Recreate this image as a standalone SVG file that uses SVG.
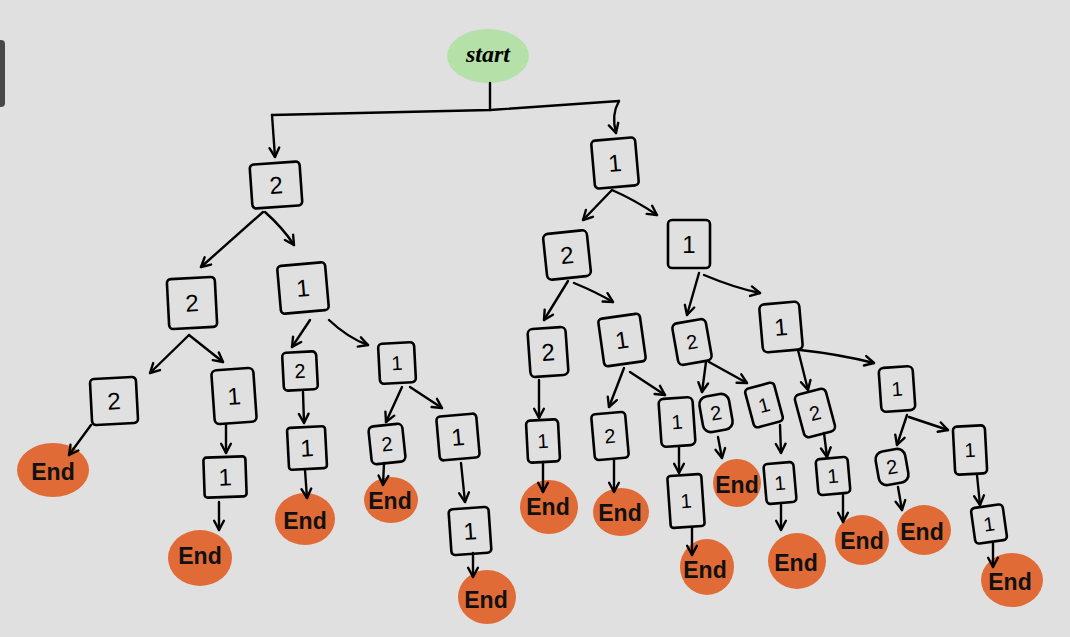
<svg xmlns="http://www.w3.org/2000/svg" width="1070" height="637" viewBox="0 0 1070 637">
<defs>
<marker id="ah" viewBox="0 0 12 12" refX="10" refY="6" markerWidth="13" markerHeight="13" markerUnits="userSpaceOnUse" orient="auto">
<path d="M1.5,1.5 L10,6 L1.5,10.5" fill="none" stroke="#000" stroke-width="2.2" stroke-linecap="round" stroke-linejoin="round"/>
</marker>
</defs>
<style>
.box{fill:none;stroke:#000;stroke-width:2.6;stroke-linejoin:round}
.num{font-family:"Liberation Sans","Noto Sans",sans-serif;font-size:24px;fill:#000;text-anchor:middle;dominant-baseline:central}
.sm{font-size:20px}
.end{fill:#e06b36}
.endt{font-family:"Liberation Sans","Noto Sans",sans-serif;font-size:23px;font-weight:600;fill:#111;text-anchor:middle;dominant-baseline:central}
.c{fill:none;stroke:#000;stroke-width:2.4;stroke-linecap:round;stroke-linejoin:round}
.ca{fill:none;stroke:#000;stroke-width:2.4;stroke-linecap:round;marker-end:url(#ah)}
</style>
<rect width="1070" height="637" fill="#e0e0e0"/>
<rect x="-6" y="40" width="11" height="67" rx="4" fill="#484848"/>

<g id="start"><ellipse cx="488" cy="56" rx="41" ry="27" fill="#b5e0a8"/><text x="488" y="54" font-family="'Liberation Serif',serif" font-style="italic" font-weight="bold" font-size="24" text-anchor="middle" dominant-baseline="central">start</text></g>

<g id="nA" transform="translate(276,185) rotate(-4)"><rect class="box" x="-25" y="-22" width="50" height="44" rx="4"/><text class="num">2</text></g>
<g id="nB" transform="translate(615,163) rotate(-5)"><rect class="box" x="-22" y="-24" width="44" height="48" rx="4"/><text class="num">1</text></g>
<g id="nA1" transform="translate(192,303) rotate(-3)"><rect class="box" x="-24" y="-25" width="48" height="50" rx="4"/><text class="num">2</text></g>
<g id="nA2" transform="translate(303,288) rotate(-5)"><rect class="box" x="-24" y="-24" width="48" height="48" rx="4"/><text class="num">1</text></g>
<g id="nB1" transform="translate(567,255) rotate(-6)"><rect class="box" x="-22" y="-23" width="44" height="46" rx="5"/><text class="num">2</text></g>
<g id="nB2" transform="translate(689,244)"><rect class="box" x="-21" y="-24" width="42" height="48" rx="4"/><text class="num">1</text></g>
<g id="nA11" transform="translate(114,401) rotate(-3)"><rect class="box" x="-23" y="-23" width="46" height="46" rx="4"/><text class="num">2</text></g>
<g id="nA12" transform="translate(234,396) rotate(-4)"><rect class="box" x="-21" y="-27" width="42" height="54" rx="5"/><text class="num">1</text></g>
<g id="nA12c" transform="translate(225,477) rotate(-2)"><rect class="box" x="-21" y="-20" width="42" height="40" rx="3"/><text class="num">1</text></g>
<g id="nA21" transform="translate(300,371) rotate(-3)"><rect class="box" x="-17" y="-19" width="34" height="38" rx="4"/><text class="num sm">2</text></g>
<g id="nA21c" transform="translate(307,448) rotate(-3)"><rect class="box" x="-19" y="-21" width="38" height="42" rx="3"/><text class="num">1</text></g>
<g id="nA22" transform="translate(397,363) rotate(-3)"><rect class="box" x="-18" y="-20" width="36" height="40" rx="4"/><text class="num sm">1</text></g>
<g id="nA22L" transform="translate(387,444) rotate(-6)"><rect class="box" x="-17" y="-19" width="34" height="38" rx="5"/><text class="num sm">2</text></g>
<g id="nA22R" transform="translate(458,437) rotate(-5)"><rect class="box" x="-20" y="-22" width="40" height="44" rx="4"/><text class="num">1</text></g>
<g id="nA22Rc" transform="translate(470,531) rotate(-4)"><rect class="box" x="-20" y="-23" width="40" height="46" rx="4"/><text class="num">1</text></g>
<g id="nB11" transform="translate(548,352) rotate(-4)"><rect class="box" x="-19" y="-24" width="38" height="48" rx="5"/><text class="num">2</text></g>
<g id="nB11c" transform="translate(543,441) rotate(-3)"><rect class="box" x="-16" y="-21" width="32" height="42" rx="4"/><text class="num sm">1</text></g>
<g id="nB12" transform="translate(622,340) rotate(-8)"><rect class="box" x="-21" y="-24" width="42" height="48" rx="4"/><text class="num">1</text></g>
<g id="nB12L" transform="translate(610,436) rotate(-5)"><rect class="box" x="-17" y="-23" width="34" height="46" rx="4"/><text class="num sm">2</text></g>
<g id="nB12R" transform="translate(677,422) rotate(-4)"><rect class="box" x="-17" y="-24" width="34" height="48" rx="5"/><text class="num sm">1</text></g>
<g id="nB12Rc" transform="translate(686,501) rotate(-4)"><rect class="box" x="-17" y="-26" width="34" height="52" rx="3"/><text class="num sm">1</text></g>
<g id="nB21" transform="translate(692,342) rotate(-10)"><rect class="box" x="-17" y="-21" width="34" height="42" rx="5"/><text class="num sm">2</text></g>
<g id="nB21L" transform="translate(716,413) rotate(-10)"><rect class="box" x="-15" y="-18" width="30" height="36" rx="8"/><text class="num sm">2</text></g>
<g id="nB21R" transform="translate(764,405) rotate(-15)"><rect class="box" x="-15" y="-20" width="30" height="40" rx="4"/><text class="num sm">1</text></g>
<g id="nB21Rc" transform="translate(780,483) rotate(-5)"><rect class="box" x="-15" y="-20" width="30" height="40" rx="4"/><text class="num sm">1</text></g>
<g id="nB22" transform="translate(781,327) rotate(-5)"><rect class="box" x="-20" y="-24" width="40" height="48" rx="5"/><text class="num">1</text></g>
<g id="nB22L" transform="translate(815,413) rotate(-15)"><rect class="box" x="-16" y="-22" width="32" height="44" rx="5"/><text class="num sm">2</text></g>
<g id="nB22Lc" transform="translate(833,476) rotate(-5)"><rect class="box" x="-16" y="-18" width="32" height="36" rx="4"/><text class="num sm">1</text></g>
<g id="nB22R" transform="translate(897,389) rotate(-4)"><rect class="box" x="-17" y="-22" width="34" height="44" rx="5"/><text class="num sm">1</text></g>
<g id="nB22RL" transform="translate(892,467) rotate(-10)"><rect class="box" x="-15" y="-17" width="30" height="34" rx="8"/><text class="num sm">2</text></g>
<g id="nB22RR" transform="translate(970,450) rotate(-3)"><rect class="box" x="-16" y="-24" width="32" height="48" rx="4"/><text class="num sm">1</text></g>
<g id="nB22RRc" transform="translate(989,524) rotate(-8)"><rect class="box" x="-16" y="-18" width="32" height="36" rx="4"/><text class="num sm">1</text></g>

<g id="end1"><ellipse class="end" cx="53" cy="470" rx="36" ry="27"/><text class="endt" x="53" y="472" font-size="26">End</text></g>
<g id="end2"><ellipse class="end" cx="200" cy="558" rx="32" ry="28"/><text class="endt" x="200" y="556" font-size="25">End</text></g>
<g id="end3"><ellipse class="end" cx="305" cy="519" rx="30" ry="26"/><text class="endt" x="305" y="521">End</text></g>
<g id="end4"><ellipse class="end" cx="391" cy="500" rx="27" ry="23"/><text class="endt" x="390" y="501" font-size="19">End</text></g>
<g id="end5"><ellipse class="end" cx="487" cy="597" rx="29" ry="27"/><text class="endt" x="486" y="600" font-size="21">End</text></g>
<g id="end6"><ellipse class="end" cx="549" cy="507" rx="29" ry="27"/><text class="endt" x="548" y="507" font-size="21">End</text></g>
<g id="end7"><ellipse class="end" cx="621" cy="512" rx="28" ry="24"/><text class="endt" x="620" y="513" font-size="21">End</text></g>
<g id="end8"><ellipse class="end" cx="707" cy="567" rx="27" ry="28"/><text class="endt" x="705" y="570" font-size="21">End</text></g>
<g id="end9"><ellipse class="end" cx="737" cy="483" rx="24" ry="24"/><text class="endt" x="737" y="485" font-size="18">End</text></g>
<g id="end10"><ellipse class="end" cx="797" cy="561" rx="29" ry="28"/><text class="endt" x="796" y="563" font-size="22">End</text></g>
<g id="end11"><ellipse class="end" cx="862" cy="540" rx="27" ry="25"/><text class="endt" x="862" y="541" font-size="20">End</text></g>
<g id="end12"><ellipse class="end" cx="924" cy="530" rx="27" ry="25"/><text class="endt" x="922" y="532" font-size="20">End</text></g>
<g id="end13"><ellipse class="end" cx="1012" cy="580" rx="31" ry="27"/><text class="endt" x="1010" y="582" font-size="21">End</text></g>

<g id="connectors">
<path class="c" d="M490,83 L490,110"/>
<path class="c" d="M272,115 L490,110 L619,101"/>
<path class="ca" d="M272,115 L275,157"/>
<path class="ca" d="M619,101 Q611,115 616,133"/>
<path class="ca" d="M263,212 L201,267"/>
<path class="ca" d="M265,212 Q283,228 294,245"/>
<path class="ca" d="M612,190 L583,220"/>
<path class="ca" d="M612,190 Q635,200 657,215"/>
<path class="ca" d="M189,335 L150,373"/>
<path class="ca" d="M189,335 L223,362"/>
<path class="ca" d="M310,320 L292,347"/>
<path class="ca" d="M329,320 Q348,338 368,345"/>
<path class="ca" d="M568,281 L544,320"/>
<path class="ca" d="M574,283 Q596,292 613,302"/>
<path class="ca" d="M699,273 L687,315"/>
<path class="ca" d="M704,275 Q735,288 760,293"/>
<path class="ca" d="M91,425 L69,455"/>
<path class="ca" d="M226,425 L226,453"/>
<path class="ca" d="M219,502 L219,530"/>
<path class="ca" d="M303,392 L304,423"/>
<path class="ca" d="M305,470 L307,498"/>
<path class="ca" d="M402,387 L386,422"/>
<path class="ca" d="M410,387 L442,408"/>
<path class="ca" d="M384,463 L383,485"/>
<path class="ca" d="M461,463 L465,502"/>
<path class="ca" d="M473,553 L473,577"/>
<path class="ca" d="M539,380 L539,418"/>
<path class="ca" d="M543,462 L543,492"/>
<path class="ca" d="M624,368 L609,407"/>
<path class="ca" d="M630,372 L665,395"/>
<path class="ca" d="M614,460 L614,492"/>
<path class="ca" d="M679,447 L679,473"/>
<path class="ca" d="M692,528 L692,555"/>
<path class="ca" d="M706,362 L702,392"/>
<path class="ca" d="M709,362 L747,383"/>
<path class="ca" d="M718,437 L722,458"/>
<path class="ca" d="M780,425 L781,453"/>
<path class="ca" d="M781,505 L781,530"/>
<path class="ca" d="M798,350 L808,390"/>
<path class="ca" d="M800,350 Q838,354 874,363"/>
<path class="ca" d="M824,433 L827,457"/>
<path class="ca" d="M843,495 L843,522"/>
<path class="ca" d="M907,415 L897,445"/>
<path class="ca" d="M909,417 L948,430"/>
<path class="ca" d="M898,487 L902,510"/>
<path class="ca" d="M977,475 L980,505"/>
<path class="ca" d="M993,542 L993,567"/>
</g>
</svg>
